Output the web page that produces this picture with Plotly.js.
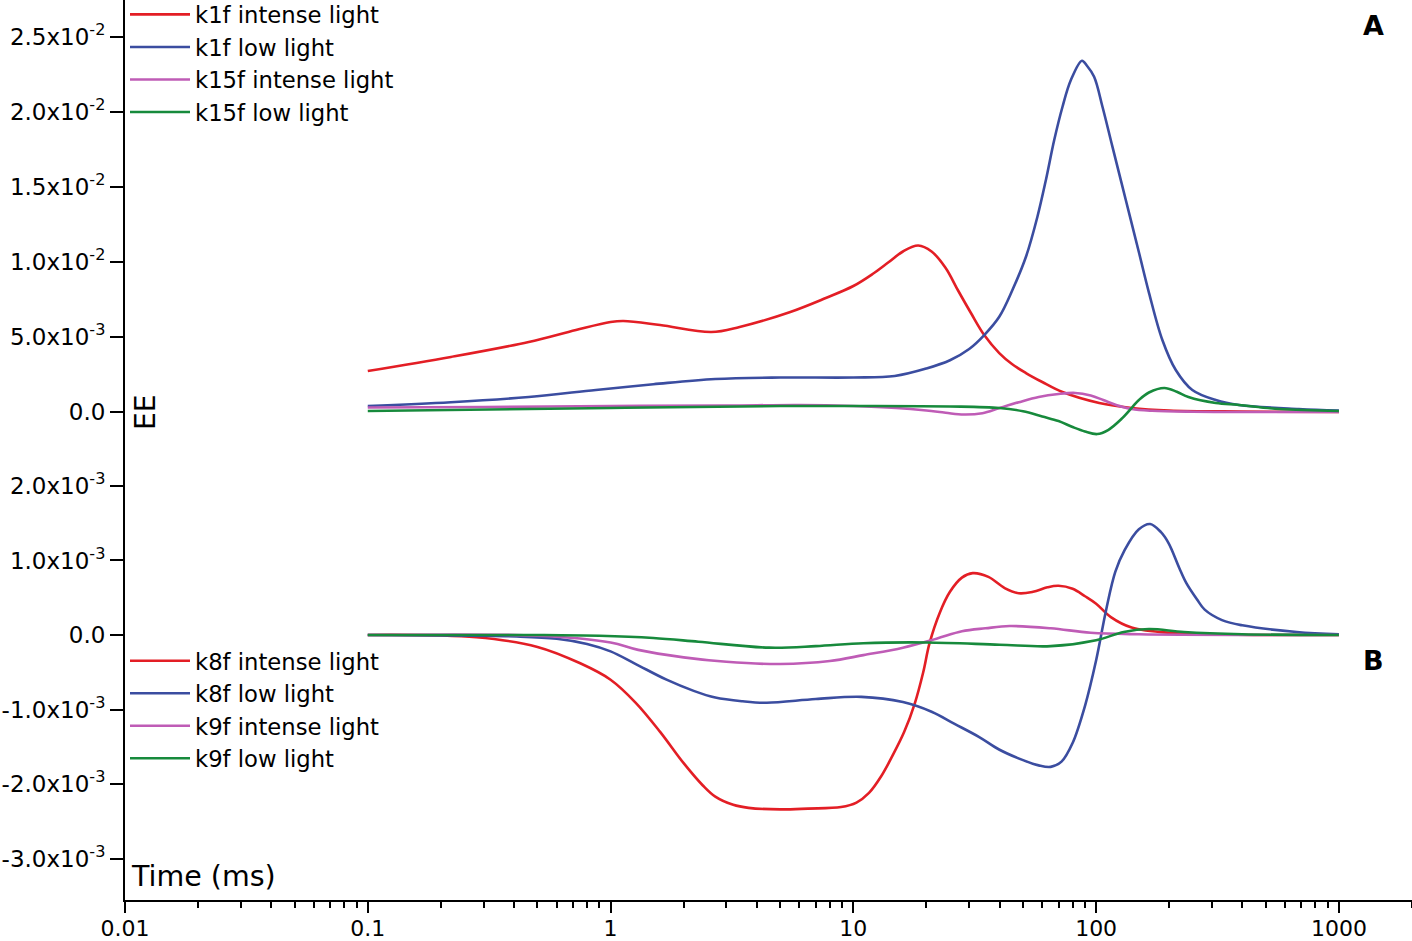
<!DOCTYPE html>
<html>
<head>
<meta charset="utf-8">
<script src="https://cdn.plot.ly/plotly-3.0.1.min.js"></script>
<style>
  html, body { margin: 0; padding: 0; background: #fff; }
  #chart { width: 1412px; height: 941px; }
</style>
</head>
<body>
<div id="chart"></div>
<script>
// Panel A (values in units of 1e-3)
const tK1fIntense = [0.1, 0.22, 0.46, 0.72, 1.0, 1.13, 1.6, 2.6, 3.4, 5.5, 7.7, 10, 12, 14, 16, 18.5, 21, 24, 27, 30.5, 34.6, 39.9, 45, 51.4, 60, 72.7, 103, 140, 200, 400, 1000];
const k1fIntense  = [2.73, 3.67, 4.67, 5.47, 6.0, 6.07, 5.8, 5.33, 5.67, 6.67, 7.6, 8.4, 9.2, 10.0, 10.7, 11.1, 10.7, 9.6, 8.1, 6.6, 5.13, 3.93, 3.2, 2.6, 2.0, 1.33, 0.6, 0.27, 0.1, 0.03, 0];

const tK1fLow = [0.1, 0.22, 0.46, 0.87, 1.5, 2.7, 5, 10, 14.8, 20, 25, 30, 34.6, 39.9, 45.2, 51.4, 57.3, 62.1, 67.2, 72.7, 78.7, 87.4, 91.5, 98.1, 106.2, 116.7, 132.5, 150.3, 165.2, 187.4, 212.8, 249, 311, 388, 684, 1000];
const k1fLow  = [0.4, 0.65, 1.0, 1.47, 1.85, 2.2, 2.3, 2.3, 2.4, 2.9, 3.45, 4.2, 5.13, 6.35, 8.13, 10.35, 13.02, 15.47, 18.13, 20.35, 22.13, 23.42, 23.1, 22.35, 20.35, 17.69, 14.13, 10.6, 7.93, 4.8, 2.8, 1.47, 0.8, 0.47, 0.2, 0.1];

const tK15fIntense = [0.1, 0.3, 1, 3, 6, 10, 15, 20, 24, 28.5, 34, 40, 48, 58, 70, 82, 95, 107, 121, 140, 170, 250, 1000];
const k15fIntense  = [0.3, 0.33, 0.4, 0.43, 0.47, 0.4, 0.27, 0.1, -0.05, -0.17, -0.08, 0.27, 0.65, 1.0, 1.2, 1.27, 1.1, 0.8, 0.47, 0.2, 0.08, 0.02, 0];

const tK15fLow = [0.1, 1, 5, 10, 25, 40, 50, 60, 70, 80, 90, 101, 112, 127, 141, 150, 165, 191, 215, 240, 311, 388, 567, 1000];
const k15fLow  = [0.07, 0.27, 0.4, 0.4, 0.37, 0.27, 0.05, -0.3, -0.6, -1.0, -1.3, -1.47, -1.2, -0.47, 0.33, 0.8, 1.3, 1.6, 1.35, 1.0, 0.6, 0.47, 0.2, 0.07];

// Panel B (values in units of 1e-3)
const tK8fIntense = [0.1, 0.28, 0.5, 0.75, 1.0, 1.27, 1.6, 2.0, 2.4, 2.7, 3.2, 3.7, 5, 6.5, 8.9, 10.3, 11.6, 13.0, 14.5, 16.2, 17.9, 19.4, 20.6, 22.7, 25, 28, 31, 36, 42, 48, 55, 63, 70, 80, 90, 100, 115, 140, 200, 1000];
const k8fIntense  = [0, -0.03, -0.16, -0.38, -0.6, -0.91, -1.3, -1.72, -2.02, -2.17, -2.28, -2.32, -2.34, -2.33, -2.31, -2.25, -2.12, -1.9, -1.62, -1.3, -0.92, -0.5, -0.11, 0.3, 0.58, 0.77, 0.83, 0.78, 0.63, 0.56, 0.58, 0.64, 0.66, 0.62, 0.52, 0.42, 0.24, 0.1, 0.03, 0];

const tK8fLow = [0.1, 0.41, 0.6, 0.8, 1.0, 1.27, 1.7, 2.2, 2.7, 3.5, 4.4, 7, 10.8, 16, 21, 26, 33, 40, 50, 58, 65, 72, 80, 90, 100, 110, 120, 131, 150, 167, 185, 199, 220, 235, 260, 280, 330, 400, 670, 1000];
const k8fLow  = [0, -0.02, -0.05, -0.12, -0.22, -0.39, -0.6, -0.75, -0.84, -0.89, -0.91, -0.86, -0.83, -0.9, -1.03, -1.19, -1.37, -1.54, -1.68, -1.75, -1.77, -1.7, -1.45, -0.95, -0.34, 0.34, 0.85, 1.14, 1.42, 1.49, 1.38, 1.23, 0.9, 0.7, 0.48, 0.34, 0.2, 0.13, 0.04, 0.01];

const tK9fIntense = [0.1, 0.5, 1, 1.3, 2, 3, 5, 8, 11, 16, 22, 28, 35, 44, 65, 95, 150, 1000];
const k9fIntense  = [0, -0.01, -0.1, -0.2, -0.3, -0.36, -0.39, -0.35, -0.27, -0.17, -0.05, 0.05, 0.09, 0.12, 0.09, 0.03, 0.01, 0];

const tK9fLow = [0.1, 0.5, 0.9, 1.5, 2.3, 4.5, 7, 11, 20, 40, 65, 100, 130, 165, 230, 400, 1000];
const k9fLow  = [0, 0, -0.01, -0.04, -0.09, -0.17, -0.15, -0.11, -0.1, -0.13, -0.15, -0.07, 0.04, 0.08, 0.04, 0.01, 0];

// Axis ticks
const xTickVals = [0.01, 0.1, 1, 10, 100, 1000];
const xTickText = ['0.01', '0.1', '1', '10', '100', '1000'];
const yTopTickVals = [0, 5, 10, 15, 20, 25];
const yTopTickText = ['0.0', '5.0x10<sup>-3</sup>', '1.0x10<sup>-2</sup>', '1.5x10<sup>-2</sup>', '2.0x10<sup>-2</sup>', '2.5x10<sup>-2</sup>'];
const yBotTickVals = [-3, -2, -1, 0, 1, 2];
const yBotTickText = ['-3.0x10<sup>-3</sup>', '-2.0x10<sup>-3</sup>', '-1.0x10<sup>-3</sup>', '0.0', '1.0x10<sup>-3</sup>', '2.0x10<sup>-3</sup>'];

const RED = '#e31e25', BLUE = '#3b4da0', MAGENTA = '#bf5cb6', GREEN = '#178a3c';
const FONT = 'DejaVu Sans, Arial, sans-serif';

const minorVals = [];
for (let d = 0.01; d < 2000; d *= 10) {
    for (let m = 2; m <= 9; m++) {
        const v = +(d * m).toPrecision(3);
        if (v <= 2000) minorVals.push(v);
    }
}

function line(x, y, name, color, yaxis, legend) {
    return {
        type: 'scatter', mode: 'lines', x: x, y: y, name: name,
        xaxis: 'x', yaxis: yaxis, legend: legend,
        line: { color: color, width: 2.6, shape: 'spline', smoothing: 1 },
        hoverinfo: 'skip'
    };
}

const traces = [
    line(tK1fIntense, k1fIntense, 'k1f intense light', RED, 'y2', 'legend'),
    line(tK1fLow, k1fLow, 'k1f low light', BLUE, 'y2', 'legend'),
    line(tK15fIntense, k15fIntense, 'k15f intense light', MAGENTA, 'y2', 'legend'),
    line(tK15fLow, k15fLow, 'k15f low light', GREEN, 'y2', 'legend'),
    line(tK8fIntense, k8fIntense, 'k8f intense light', RED, 'y', 'legend2'),
    line(tK8fLow, k8fLow, 'k8f low light', BLUE, 'y', 'legend2'),
    line(tK9fIntense, k9fIntense, 'k9f intense light', MAGENTA, 'y', 'legend2'),
    line(tK9fLow, k9fLow, 'k9f low light', GREEN, 'y', 'legend2')
];

const yCommon = {
    anchor: 'x', showline: true, linecolor: '#000', linewidth: 2,
    ticks: 'outside', ticklen: 13, tickwidth: 2, tickcolor: '#000',
    showgrid: false, zeroline: false, tickmode: 'array',
    tickfont: { family: FONT, size: 23, color: '#000' }
};

const legendCommon = {
    x: 0, xanchor: 'left', yanchor: 'top', bgcolor: 'rgba(0,0,0,0)',
    borderwidth: 0, itemwidth: 60, traceorder: 'normal',
    font: { family: FONT, size: 22.7, color: '#000' }
};

const layout = {
    width: 1412, height: 941,
    margin: { l: 125, r: 0, t: 0, b: 41, autoexpand: false },
    paper_bgcolor: '#fff', plot_bgcolor: '#fff',
    showlegend: true,
    xaxis: {
        type: 'log', range: [-2, Math.log10(2000)], anchor: 'y',
        showline: true, linecolor: '#000', linewidth: 2,
        ticks: 'outside', ticklen: 11, tickwidth: 2, tickcolor: '#000',
        ticklabelstandoff: -3,
        tickmode: 'array', tickvals: xTickVals, ticktext: xTickText,
        minor: { tickmode: 'array', tickvals: minorVals, ticks: 'outside', ticklen: 6, tickwidth: 2, tickcolor: '#000', showgrid: false },
        showgrid: false, zeroline: false,
        tickfont: { family: FONT, size: 22, color: '#000' }
    },
    yaxis: Object.assign({}, yCommon, {
        domain: [0, 0.5], range: [-3.557, 2.483],
        tickvals: yBotTickVals, ticktext: yBotTickText
    }),
    yaxis2: Object.assign({}, yCommon, {
        domain: [0.5, 1], range: [-2.533, 27.467],
        tickvals: yTopTickVals, ticktext: yTopTickText
    }),
    legend: Object.assign({}, legendCommon, { y: 1.0076 }),
    legend2: Object.assign({}, legendCommon, { y: 0.2895 }),
    annotations: [
        { text: '<b>A</b>', xref: 'paper', yref: 'paper', x: 0.9697, y: 0.9722, xanchor: 'center', yanchor: 'middle',
          showarrow: false, font: { family: FONT, size: 27, color: '#000' } },
        { text: '<b>B</b>', xref: 'paper', yref: 'paper', x: 0.9697, y: 0.2656, xanchor: 'center', yanchor: 'middle',
          showarrow: false, font: { family: FONT, size: 27, color: '#000' } },
        { text: 'EE', xref: 'paper', yref: 'y2', x: 0.0155, y: 0, textangle: -90, xanchor: 'center', yanchor: 'middle',
          showarrow: false, font: { family: FONT, size: 28, color: '#000' } },
        { text: 'Time (ms)', xref: 'paper', yref: 'paper', x: 0.003, y: 0.0256, xanchor: 'left', yanchor: 'middle',
          showarrow: false, font: { family: FONT, size: 28.5, color: '#000' } }
    ]
};

Plotly.newPlot('chart', traces, layout, { displayModeBar: false, staticPlot: true });
</script>
</body>
</html>
